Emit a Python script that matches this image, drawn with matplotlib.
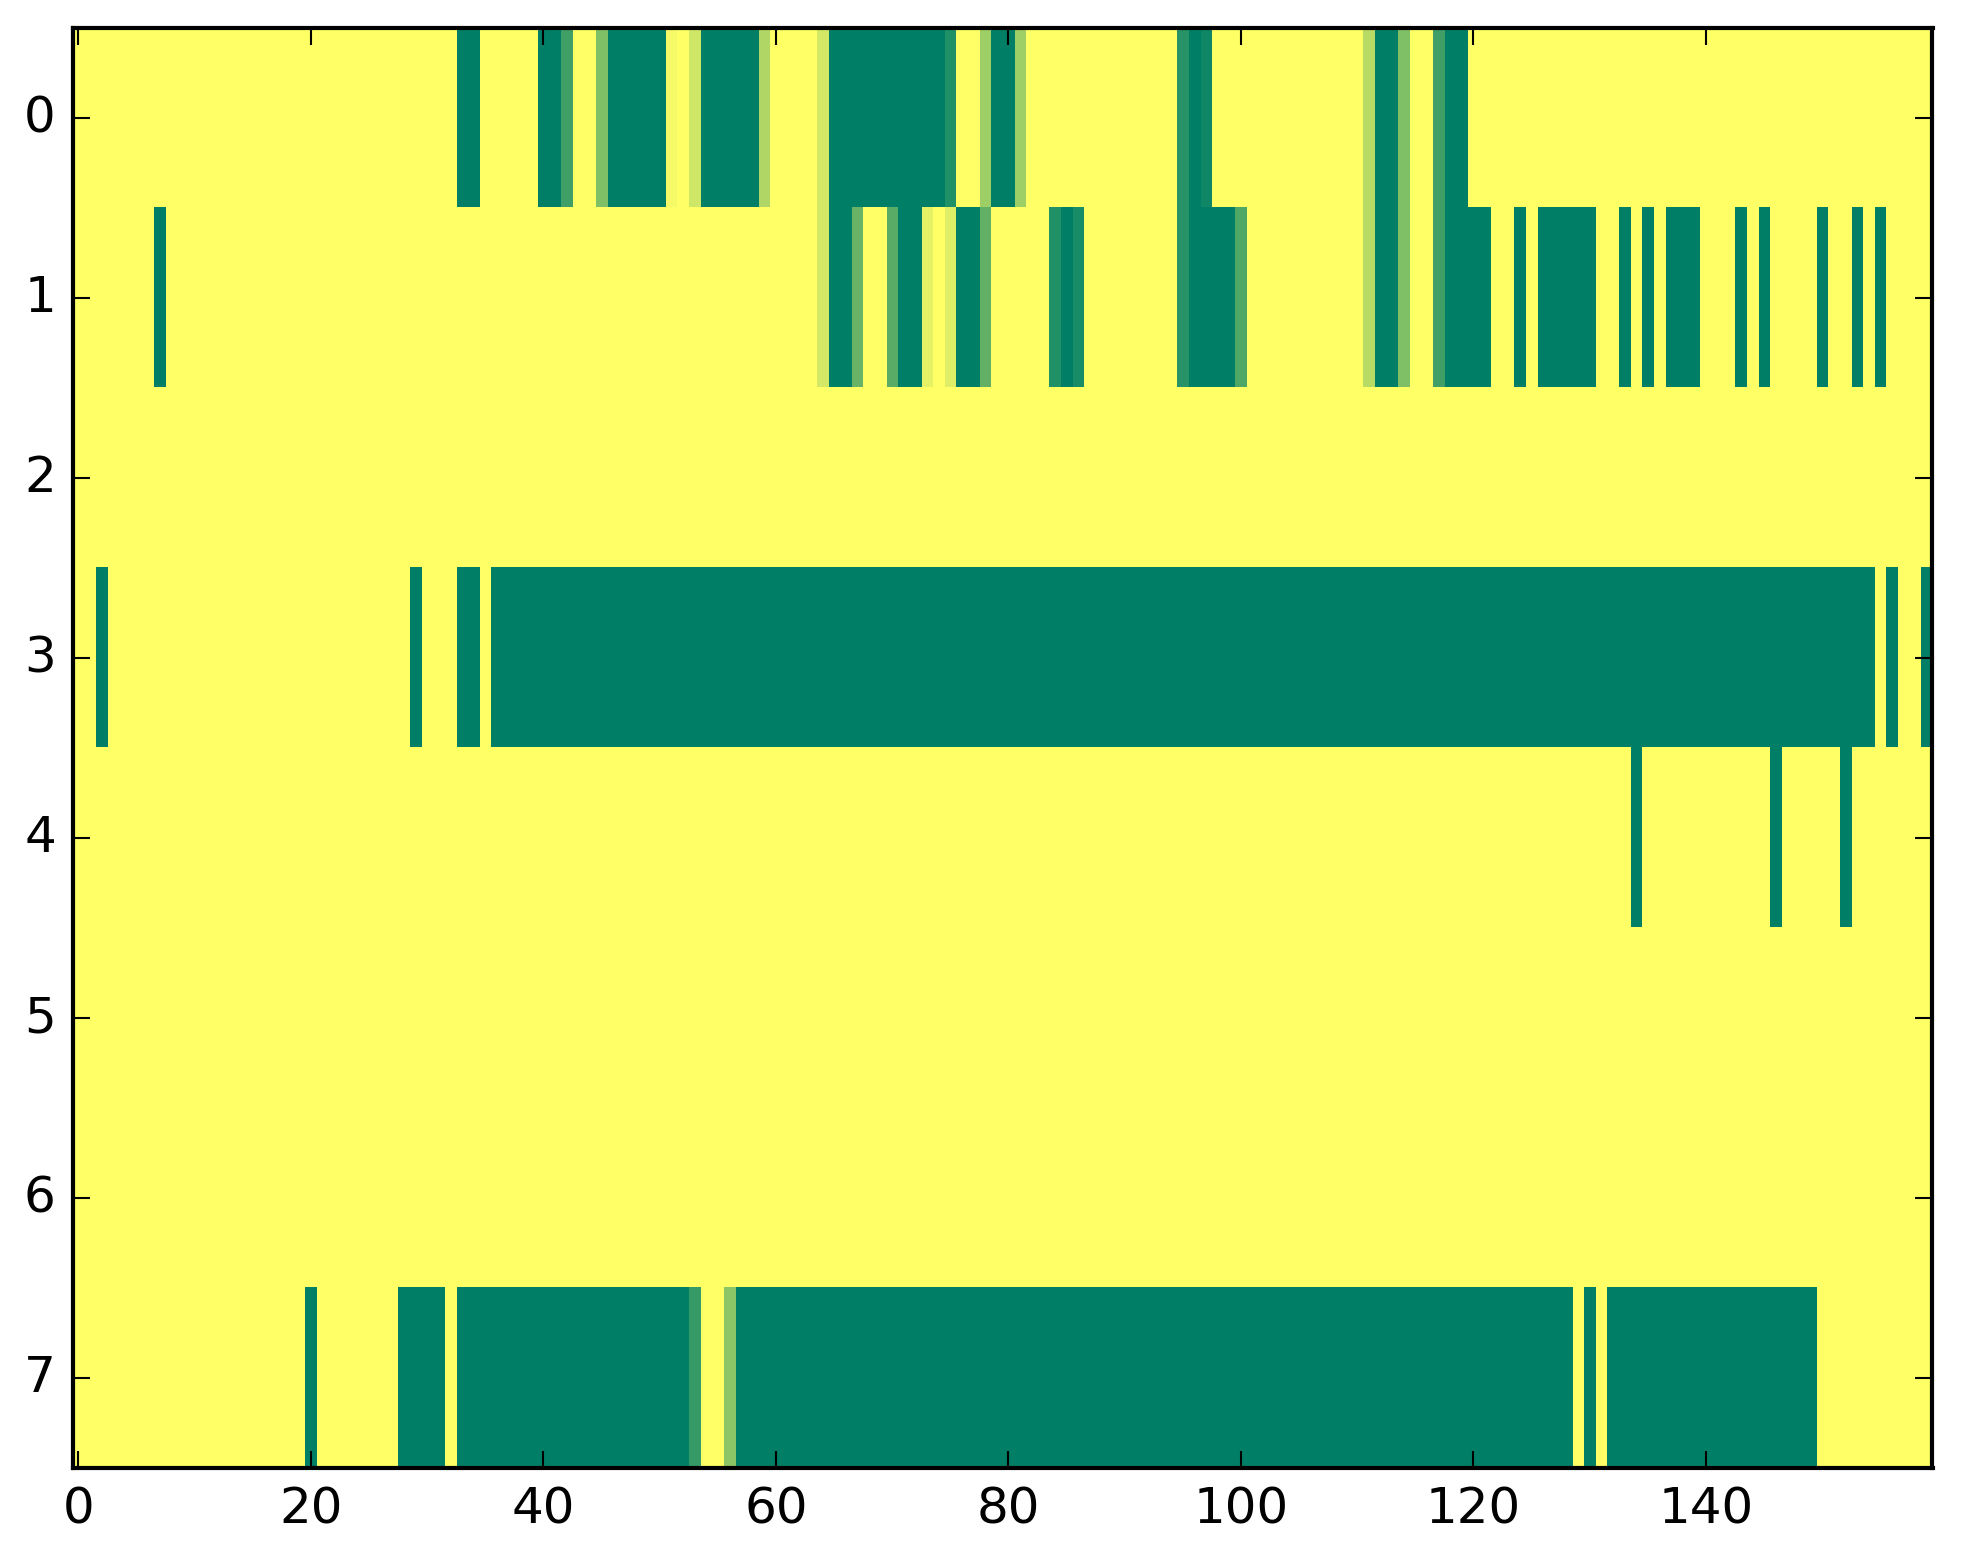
import numpy as np
import matplotlib
matplotlib.use("Agg")
import matplotlib.pyplot as plt

plt.style.use("classic")

n_cols = 160
row_labels = [0, 1, 2, 3, 4, 5, 6, 7]
x_ticks = [0, 20, 40, 60, 80, 100, 120, 140]

# Each row: list of (start_col, stop_col_exclusive, value); unlisted cells are 0
row0 = [(33, 35, 1.0), (40, 42, 1.0), (42, 43, 0.75), (45, 46, 0.5), (46, 51, 1.0),
        (51, 52, 0.04), (53, 54, 0.19), (54, 59, 1.0), (59, 60, 0.31), (64, 65, 0.17),
        (65, 75, 1.0), (75, 76, 0.87), (78, 79, 0.38), (79, 81, 1.0), (81, 82, 0.38),
        (95, 96, 0.84), (96, 97, 1.0), (97, 98, 0.94), (111, 112, 0.28), (112, 114, 1.0),
        (114, 115, 0.5), (117, 118, 0.75), (118, 120, 1.0)]
row1 = [(7, 8, 1.0), (64, 65, 0.17), (65, 67, 1.0), (67, 68, 0.59), (70, 71, 0.65),
        (71, 73, 1.0), (73, 74, 0.1), (75, 76, 0.13), (76, 78, 1.0), (78, 79, 0.62),
        (84, 85, 0.87), (85, 86, 1.0), (86, 87, 0.9), (95, 96, 0.84), (96, 100, 1.0),
        (100, 101, 0.69), (111, 112, 0.28), (112, 114, 1.0), (114, 115, 0.5),
        (117, 118, 0.75), (118, 122, 1.0), (124, 125, 1.0), (126, 131, 1.0),
        (133, 134, 1.0), (135, 136, 1.0), (137, 140, 1.0), (143, 144, 1.0),
        (145, 146, 1.0), (150, 151, 1.0), (153, 154, 1.0), (155, 156, 1.0)]
row2 = []
row3 = [(2, 3, 1.0), (29, 30, 1.0), (33, 35, 1.0), (36, 155, 1.0), (156, 157, 1.0),
        (159, 160, 1.0)]
row4 = [(134, 135, 1.0), (146, 147, 1.0), (152, 153, 1.0)]
row5 = []
row6 = []
row7 = [(20, 21, 1.0), (28, 32, 1.0), (33, 53, 1.0), (53, 54, 0.79), (56, 57, 0.45),
        (57, 129, 1.0), (130, 131, 1.0), (132, 150, 1.0)]

rows = [row0, row1, row2, row3, row4, row5, row6, row7]
data = np.zeros((len(rows), n_cols))
for r, segs in enumerate(rows):
    for start, stop, val in segs:
        data[r, start:stop] = val

W, H, DPI = 1963, 1564, 300
fig = plt.figure(figsize=(W / DPI, H / DPI), dpi=DPI, facecolor="white")
ax = fig.add_axes([72.5 / W, 95.5 / H, 1860 / W, 1440 / H])
ax.imshow(data, cmap="summer_r", vmin=0, vmax=1, interpolation="nearest",
          aspect="auto")
ax.set_xticks(x_ticks)
ax.set_yticks(row_labels)
ax.set_xlim(-0.5, n_cols - 0.5)
ax.set_ylim(len(rows) - 0.5, -0.5)
ax.tick_params(labelsize=12)

fig.savefig("out.png", dpi=DPI, facecolor="white")
